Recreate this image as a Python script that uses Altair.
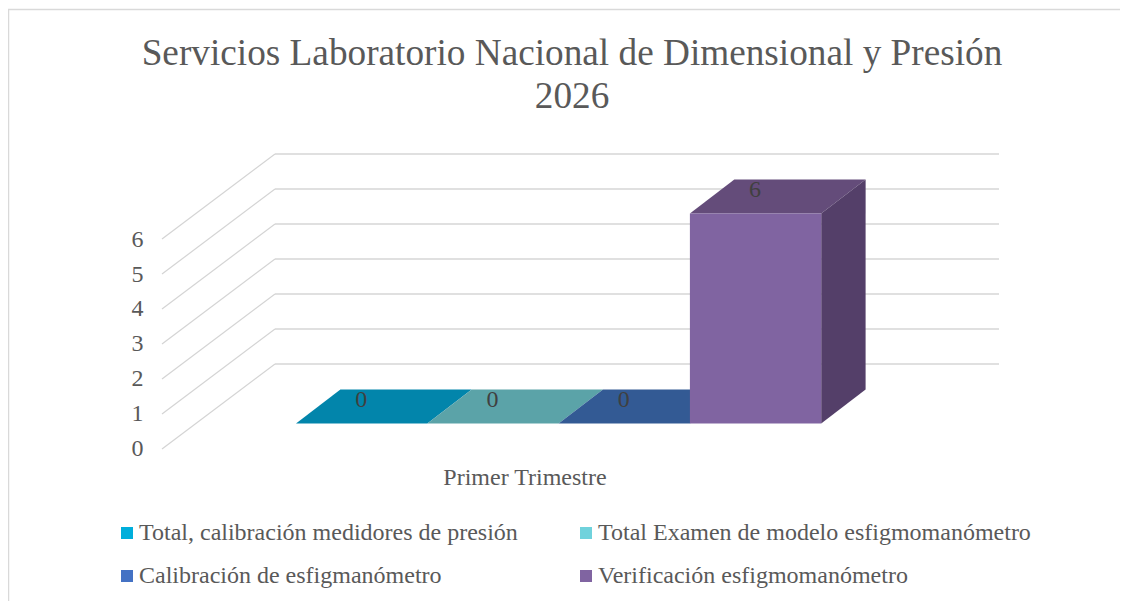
import altair as alt
import pandas as pd

# ---- chart content ----
TITLE_LINES = ["Servicios Laboratorio Nacional de Dimensional y Presión", "2026"]
CATEGORY = "Primer Trimestre"
SERIES = [
    "Total, calibración medidores de presión",
    "Total Examen de modelo esfigmomanómetro",
    "Calibración de esfigmanómetro",
    "Verificación esfigmomanómetro",
]
VALUES = [0, 0, 0, 6]
TICKS = [0, 1, 2, 3, 4, 5, 6]

# ---- styles ----
FRONT = ["#00AEDB", "#70D2DC", "#4472C4", "#8064A1"]
TOP = ["#0285AB", "#5BA3A8", "#335A94", "#644C7A"]
SIDE = ["#016A88", "#4A8488", "#294876", "#543F69"]
FONT = "Liberation Serif"

# ---- oblique projection of the 3-D frame (page pixels) ----
PAGE_W, PAGE_H = 1112, 593
UNIT = 35.0
WALL_X0, WALL_X1, WALL_Y0 = 275, 999, 364
SIDE_X0, SIDE_Y0 = 162, 449
BAR_X0, BAR_W, BAR_BASE = 296, 131.3, 423.5
DX, DY = 44.4, 34.0

grid = pd.DataFrame(
    {"v": TICKS,
     "x": [WALL_X0] * len(TICKS),
     "x2": [WALL_X1] * len(TICKS),
     "y": [WALL_Y0 - UNIT * t for t in TICKS]}
)
diag = pd.DataFrame(
    [dict(v=t, x=SIDE_X0, y=SIDE_Y0 - UNIT * t) for t in TICKS]
    + [dict(v=t, x=WALL_X0, y=WALL_Y0 - UNIT * t) for t in TICKS]
)
ticklab = pd.DataFrame(
    {"label": [str(t) for t in TICKS],
     "x": [143.5] * len(TICKS),
     "y": [449 - 34.9 * t for t in TICKS]}
)

front, side, top, labels = [], [], [], []
for i, (s, v) in enumerate(zip(SERIES, VALUES)):
    x0 = BAR_X0 + i * BAR_W
    x1 = x0 + BAR_W
    ytop = BAR_BASE - UNIT * v
    front += [dict(series=s, x=x0, y=ytop, y2=BAR_BASE),
              dict(series=s, x=x1, y=ytop, y2=BAR_BASE)]
    side += [dict(series=s, fill=SIDE[i], x=x1, y=ytop, y2=BAR_BASE),
             dict(series=s, fill=SIDE[i], x=x1 + DX, y=ytop - DY, y2=BAR_BASE - DY)]
    top += [dict(series=s, fill=TOP[i], y=ytop, x=x0, x2=x1),
            dict(series=s, fill=TOP[i], y=ytop - DY, x=x0 + DX, x2=x1 + DX)]
    labels.append(dict(label=str(v), x=(x0 + x1) / 2 - 0.5, y=ytop - 23.5))
front, side, top, labels = map(pd.DataFrame, (front, side, top, labels))

X = alt.X("x:Q", axis=None, scale=alt.Scale(domain=[8, 8 + PAGE_W], range=[0, PAGE_W], nice=False, zero=False))
Y = alt.Y("y:Q", axis=None, stack=None,
          scale=alt.Scale(domain=[8 + PAGE_H, 8], nice=False, zero=False))

border_top = alt.Chart(pd.DataFrame({"x": [8], "x2": [1120], "y": [9.5]})).mark_rule(
    color="#D9D9D9", strokeWidth=1.5).encode(X, alt.X2("x2:Q"), Y)
border_left = alt.Chart(pd.DataFrame({"x": [8.5], "y": [9], "y2": [601]})).mark_rule(
    color="#D9D9D9", strokeWidth=1.5).encode(X, Y, alt.Y2("y2:Q"))

grid_l = alt.Chart(grid).mark_rule(color="#E0E0E0", strokeWidth=2).encode(X, alt.X2("x2:Q"), Y)
diag_l = alt.Chart(diag).mark_line(color="#D4D4D4", strokeWidth=1.2).encode(X, Y, detail="v:N")
tick_l = alt.Chart(ticklab).mark_text(
    font=FONT, fontSize=24, color="#595959", align="right", baseline="middle"
).encode(X, Y, text="label:N")

top_l = alt.Chart(top).mark_area(orient="horizontal", interpolate="linear").encode(
    X, alt.X2("x2:Q"), Y, alt.Color("fill:N", scale=None), detail="series:N"
)
side_l = alt.Chart(side).mark_area(interpolate="linear").encode(
    X, Y, alt.Y2("y2:Q"), alt.Color("fill:N", scale=None), detail="series:N"
)
front_l = alt.Chart(front).mark_area(interpolate="linear").encode(
    X, Y, alt.Y2("y2:Q"),
    alt.Color(
        "series:N",
        sort=SERIES,
        scale=alt.Scale(domain=SERIES, range=FRONT),
        legend=alt.Legend(
            title=None, orient="none", legendX=107, legendY=513, columns=2, direction="horizontal",
            symbolType="square", symbolSize=144, symbolStrokeWidth=0,
            labelFont=FONT, labelFontSize=24, labelColor="#595959", labelLimit=500,
            labelOffset=0, rowPadding=19, columnPadding=56, padding=0,
        ),
    ),
)
value_l = alt.Chart(labels).mark_text(
    font=FONT, fontSize=24, color="#404040", align="center", baseline="middle"
).encode(X, Y, text="label:N")
cat_l = alt.Chart(pd.DataFrame({"label": [CATEGORY], "x": [525], "y": [478]})).mark_text(
    font=FONT, fontSize=24, color="#595959", align="center", baseline="middle"
).encode(X, Y, text="label:N")

chart = alt.layer(
    border_top, border_left, grid_l, diag_l, tick_l, top_l, side_l, front_l, value_l, cat_l
).resolve_scale(color="independent").properties(
    width=PAGE_W,
    height=PAGE_H,
    padding=0,
    background="#FFFFFF",
    autosize=alt.AutoSizeParams(type="none"),
    title=alt.TitleParams(
        text=TITLE_LINES, font=FONT, fontSize=37.25, fontWeight="normal", color="#595959",
        lineHeight=43, anchor="middle", frame="group", dx=8, offset=-108,
    ),
).configure_view(stroke=None)

chart.save("out.html", embed_options={"renderer": "svg", "actions": False})
